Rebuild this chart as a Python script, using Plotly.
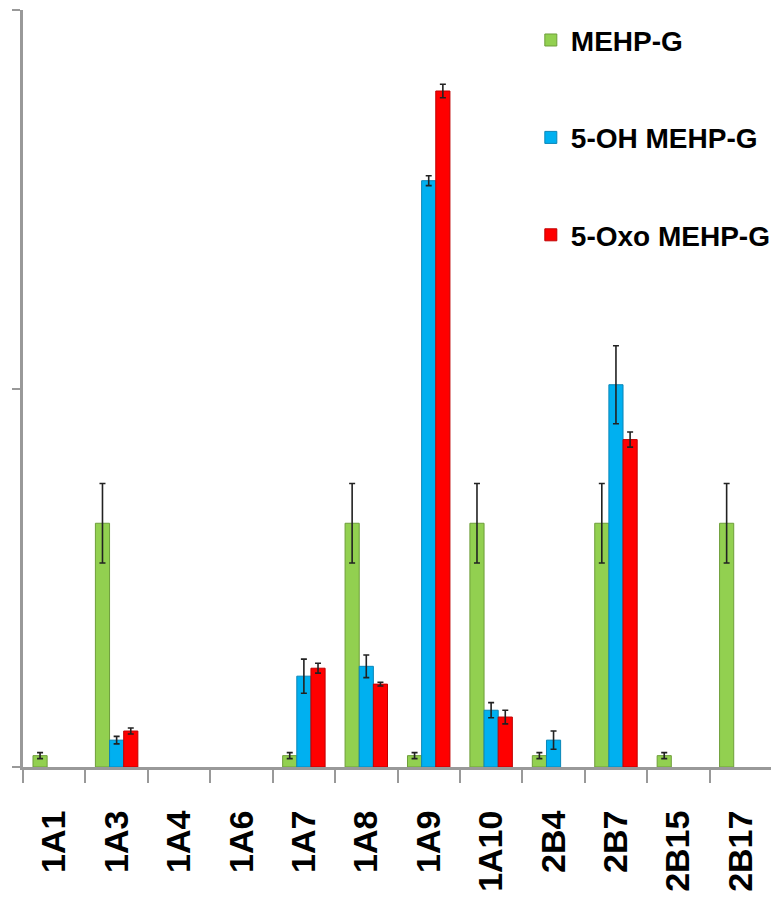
import plotly.graph_objects as go

categories = ["1A1", "1A3", "1A4", "1A6", "1A7", "1A8", "1A9", "1A10", "2B4", "2B7", "2B15", "2B17"]
mehp_g = [0.03, 0.644, None, None, 0.03, 0.644, 0.03, 0.644, 0.03, 0.644, 0.03, 0.644]
mehp_g_err = [0.008, 0.105, None, None, 0.008, 0.105, 0.008, 0.105, 0.008, 0.105, 0.008, 0.105]
oh_mehp_g = [None, 0.071, None, None, 0.24, 0.266, 1.549, 0.15, 0.071, 1.01, None, None]
oh_mehp_g_err = [None, 0.01, None, None, 0.045, 0.03, 0.013, 0.02, 0.024, 0.103, None, None]
oxo_mehp_g = [None, 0.095, None, None, 0.261, 0.219, 1.786, 0.132, None, 0.865, None, None]
oxo_mehp_g_err = [None, 0.008, None, None, 0.013, 0.005, 0.018, 0.018, None, 0.02, None, None]

series = [
    ("MEHP-G", mehp_g, mehp_g_err, "#92D050", "#6E9E3A"),
    ("5-OH MEHP-G", oh_mehp_g, oh_mehp_g_err, "#00B0F0", "#0A86B8"),
    ("5-Oxo MEHP-G", oxo_mehp_g, oxo_mehp_g_err, "#FF0000", "#C00000"),
]

fig = go.Figure()
for i, (name, vals, errs, col, lcol) in enumerate(series):
    fig.add_trace(go.Bar(
        x=categories, y=vals, name=name, legendgroup=f"g{i}",
        marker=dict(color=col, line=dict(color=lcol, width=1)),
        error_y=dict(type="data", array=errs, visible=True, color="#222222", thickness=1.6, width=3),
    ))

fig.update_layout(
    width=779, height=915,
    margin=dict(l=15, r=15, t=2, b=156, autoexpand=False),
    plot_bgcolor="white", paper_bgcolor="white",
    barmode="group", bargap=0.32, bargroupgap=0,
    showlegend=True,
    legend=dict(
        x=0.678, xanchor="left", y=0.993, yanchor="top",
        traceorder="grouped", tracegroupgap=58,
        font=dict(family="Liberation Sans, Arial, sans-serif", size=28, color="black", weight="bold"),
        bgcolor="rgba(0,0,0,0)", itemwidth=30,
    ),
    xaxis=dict(
        automargin=False,
        showline=True, linecolor="#999999", linewidth=3,
        ticks="outside", tickson="boundaries", ticklen=13, tickcolor="#999999", tickwidth=2,
        tickangle=-90, ticklabelstandoff=27,
        tickfont=dict(family="Liberation Sans, Arial, sans-serif", size=34, color="black", weight="bold"),
        showgrid=False, zeroline=False,
    ),
    yaxis=dict(
        automargin=False,
        range=[0, 2], dtick=1, showticklabels=False,
        showline=True, linecolor="#999999", linewidth=3,
        ticks="outside", ticklen=8, tickcolor="#999999", tickwidth=2,
        showgrid=False, zeroline=False,
    ),
)

fig.write_html("out.html")
